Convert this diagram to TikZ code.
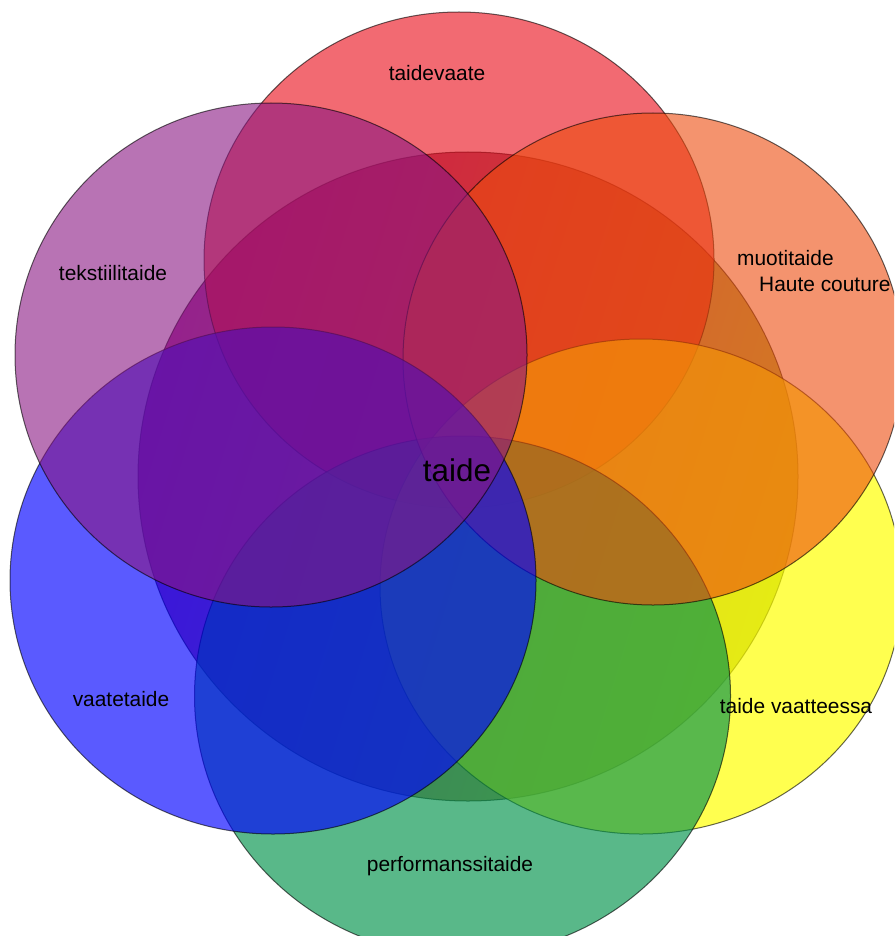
\documentclass[tikz,border=0pt]{standalone}
\usepackage{fontspec}
\setmainfont{Liberation Sans}
\definecolor{cUL}{RGB}{168,52,156}
\definecolor{cLR}{RGB}{174,192,66}
\definecolor{cRed}{RGB}{233,7,20}
\definecolor{cYellow}{RGB}{255,255,0}
\definecolor{cGreen}{RGB}{0,146,74}
\definecolor{cOrange}{RGB}{237,75,13}
\definecolor{cBlue}{RGB}{0,0,255}
\definecolor{cPurple}{RGB}{137,22,130}
\begin{document}
\begin{tikzpicture}[x=1pt,y=-1pt,
  ring/.style={draw=black, draw opacity=0.6, line width=1pt},
  lbl/.style={font=\fontsize{20.9}{25}\selectfont, text=black, inner sep=0pt},
  biglbl/.style={font=\fontsize{31.4}{37}\selectfont, text=black, inner sep=0pt}
]
\useasboundingbox (0,0) rectangle (894,936);
\begin{scope}
\clip (0,0) rectangle (894,936);
% central circle (under everything)
\shadedraw[ring, left color=cUL, right color=cLR, shading angle=73]
  (468,476.5) ellipse [x radius=330pt, y radius=324.5pt];
% red
\path[ring, fill=cRed, fill opacity=0.6] (459,260) ellipse [x radius=255pt, y radius=248pt];
% yellow
\path[ring, fill=cYellow, fill opacity=0.69] (641,586.5) ellipse [x radius=261pt, y radius=247.5pt];
% green
\path[ring, fill=cGreen, fill opacity=0.65] (462.5,696) ellipse [x radius=268pt, y radius=260pt];
% orange
\path[ring, fill=cOrange, fill opacity=0.6] (653,359) ellipse [x radius=250pt, y radius=246pt];
% blue
\path[ring, fill=cBlue, fill opacity=0.647] (273,580.5) ellipse [x radius=263pt, y radius=253.5pt];
% purple
\path[ring, fill=cPurple, fill opacity=0.6] (271,355) ellipse [x radius=256pt, y radius=252pt];
\end{scope}
\node[lbl] (taidevaate) at (437,73) {taidevaate};
\node[lbl] (tekstiili) at (113,273) {tekstiilitaide};
\node[lbl, anchor=west] (muoti) at (737,258) {muotitaide};
\node[lbl, anchor=west] (haute) at (759,284) {Haute couture};
\node[lbl] (vaatteessa) at (796,706) {taide vaatteessa};
\node[lbl] (performanssi) at (450,866) {performanssitaide};
\node[lbl] (vaatetaide) at (121,699) {vaatetaide};
\node[biglbl] (taide) at (457,470) {taide};
\end{tikzpicture}
\end{document}
